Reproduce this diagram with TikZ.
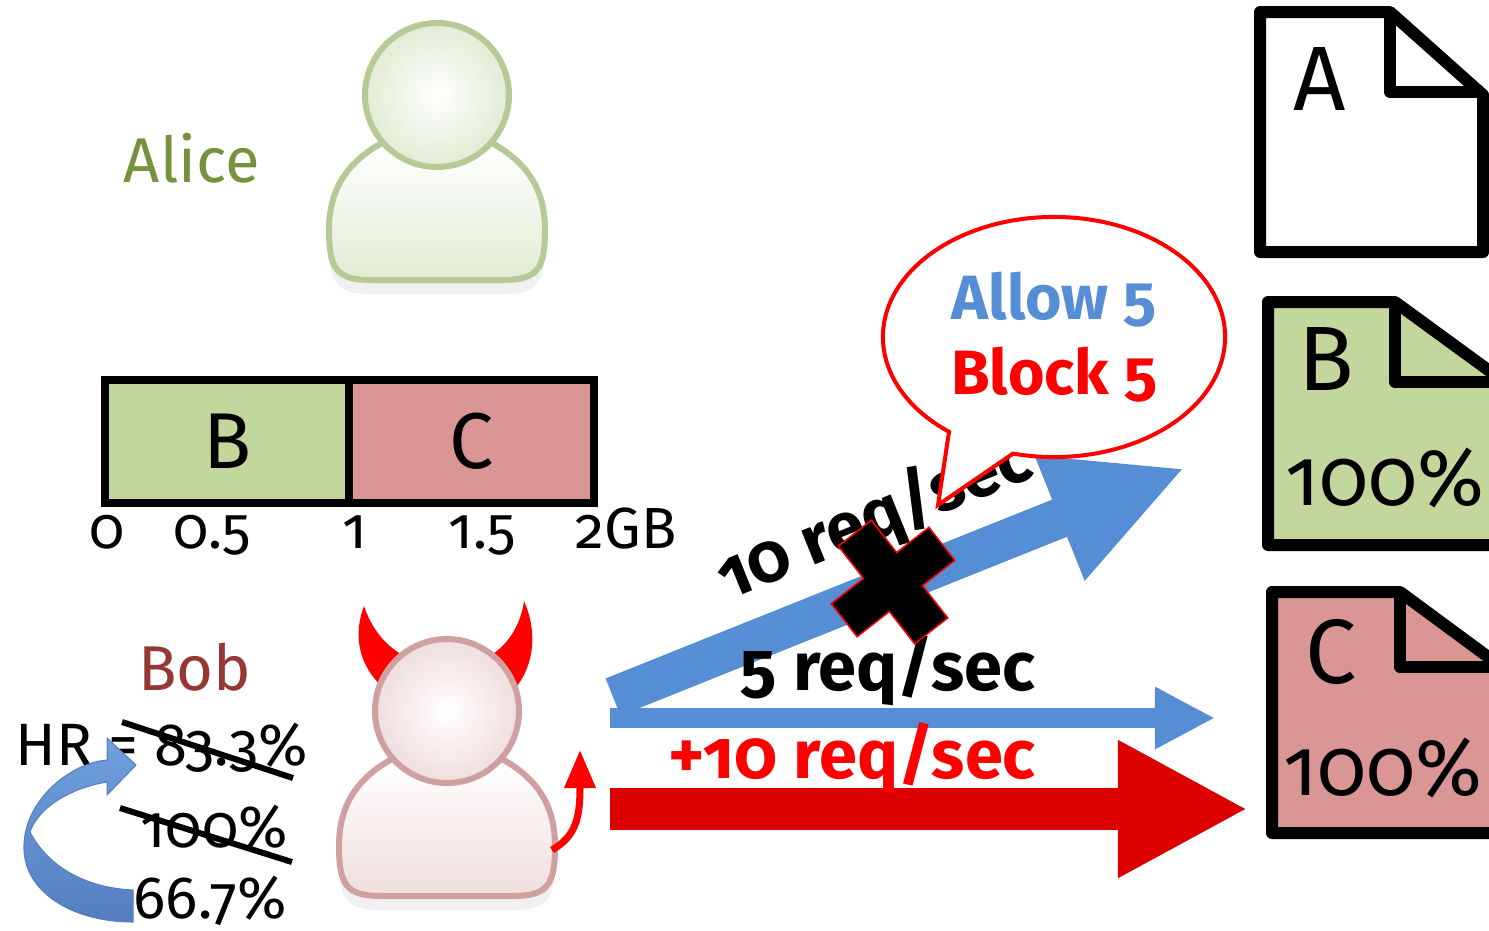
\documentclass[tikz,border=0pt]{standalone}
\usepackage{fontspec}
\setmainfont[Numbers=OldStyle]{Fira Sans}
\usepackage{xcolor}
\usepackage{tikz}
\usetikzlibrary{arrows.meta, shapes.callouts, shadows}

\definecolor{alicetext}{RGB}{118,146,60}
\definecolor{bobtext}{RGB}{149,55,53}
\definecolor{alicerim}{RGB}{182,202,150}
\definecolor{aliceskin}{RGB}{226,236,212}
\definecolor{bobrim}{RGB}{208,160,160}
\definecolor{bobskin}{RGB}{240,222,222}
\definecolor{bargreen}{RGB}{195,214,155}
\definecolor{barred}{RGB}{217,150,148}
\definecolor{flowblue}{RGB}{85,142,213}
\definecolor{flowred}{RGB}{220,0,0}
\definecolor{hrlight}{RGB}{112,160,222}
\definecolor{hrdark}{RGB}{84,126,192}

\begin{document}
\begin{tikzpicture}[
    x=0.01cm, y=-0.01cm,
    txt/.style={inner sep=0pt, anchor=base},
    username/.style={txt, font=\fontsize{18}{21}\selectfont},
    cell/.style={draw, line width=0.08cm, minimum width=2.45cm, minimum height=1.23cm, inner sep=0pt, font=\fontsize{22.5}{26}\selectfont},
    tick/.style={txt, font=\fontsize{16.5}{19}\selectfont},
    hr/.style={txt, anchor=base west, font=\fontsize{17}{20}\selectfont},
    strike/.style={line width=0.06cm},
    doc/.style={line width=0.12cm, line join=round},
    docletter/.style={txt, font=\fontsize{26}{30}\selectfont},
    docpct/.style={txt, font=\fontsize{23}{28}\selectfont},
    rate/.style={txt, font=\bfseries\fontsize{19.5}{23}\selectfont},
    flowup/.style={draw=flowblue, line width=0.4cm, -{Triangle[length=1.35cm, width=1.24cm]}},
    flowok/.style={draw=flowblue, line width=0.2cm, -{Triangle[length=0.6cm, width=0.58cm]}},
    flowbad/.style={draw=flowred, line width=0.42cm, -{Triangle[length=1.3cm, width=1.28cm]}},
    horn/.style={fill=red},
    devtail/.style={draw=red, line width=0.07cm, -{Triangle[length=0.38cm, width=0.3cm]}},
    alicelook/.style={
        personbody/.style={draw=alicerim, line width=0.06cm, top color=white, bottom color=aliceskin,
            drop shadow={opacity=0.12, shadow xshift=0pt, shadow yshift=-4pt}},
        personhead/.style={draw=alicerim, line width=0.06cm, inner color=white, outer color=aliceskin}},
    boblook/.style={
        personbody/.style={draw=bobrim, line width=0.06cm, top color=white, bottom color=bobskin,
            drop shadow={opacity=0.12, shadow xshift=0pt, shadow yshift=-4pt}},
        personhead/.style={draw=bobrim, line width=0.06cm, inner color=white, outer color=bobskin}},
    person/.pic={
        \path[personbody] (-55,48) .. controls (-95,70) and (-108,100) .. (-108,135)
            .. controls (-108,175) and (-100,185) .. (-65,185) -- (65,185)
            .. controls (100,185) and (108,175) .. (108,135)
            .. controls (108,100) and (95,70) .. (55,48) -- cycle;
        \path[personhead] (0,0) circle [radius=72];
    }
]
\useasboundingbox (0,0) rectangle (1489,930);
\clip (0,0) rectangle (1489,930);

% users
\node[username, text=alicetext] (alice) at (192,182) {Alice};
\pic[alicelook] at (437,95) {person};

\node[username, text=bobtext] (bob) at (195,690) {Bob};
\path[horn] (386,690) .. controls (356,665) and (354,632) .. (364,606)
    .. controls (374,636) and (394,654) .. (418,662) -- cycle;
\path[horn] (478,662) .. controls (503,652) and (520,630) .. (524,601)
    .. controls (537,630) and (536,666) .. (512,692) -- cycle;
\pic[boblook] at (447,711) {person};
\coordinate (tail-root) at (552,850);
\coordinate (tail-tip) at (580,750);
\draw[devtail] (tail-root) .. controls (576,836) and (580,818) .. (tail-tip);

% cache split
\node[cell, fill=bargreen] (cell-b) at (227.5,441.5) {B};
\node[cell, fill=barred] (cell-c) at (471.5,441.5) {C};
\node[tick] (t0) at (107,548) {0};
\node[tick] (t05) at (212,548) {0.5};
\node[tick] (t1) at (355,548) {1};
\node[tick] (t15) at (482,548) {1.5};
\node[tick] (t2) at (626,548) {2GB};

% hit ratio
\node[hr] (hr) at (15,765) {HR = 83.3\%};
\node[hr] (hr-mid) at (140,847) {100\%};
\node[hr] (hr-new) at (133,918) {66.7\%};
\draw[strike] (122,722) -- (293,778);
\draw[strike] (120,808) -- (292,862);
\path[draw=hrdark, line width=0.01cm, top color=hrlight, bottom color=hrdark]
    (133,922) .. controls (70,922) and (22,890) .. (24,845)
    .. controls (25,800) and (70,763) .. (107,760) -- (107,738) -- (136,765) -- (107,795) -- (107,782)
    .. controls (70,788) and (38,808) .. (30,832)
    .. controls (50,870) and (90,888) .. (133,890) -- cycle;

% objects
\draw[doc] (1260,12) -- (1390,12) -- (1483,95) -- (1483,252) -- (1260,252) -- cycle;
\draw[doc] (1390,12) -- (1390,92) -- (1483,92);
\node[docletter] (doc-a) at (1320,110) {A};

\draw[doc, fill=bargreen] (1268,302) -- (1395,302) -- (1495,375) -- (1495,545) -- (1268,545) -- cycle;
\draw[doc] (1395,302) -- (1395,382) -- (1495,382);
\node[docletter] (doc-b) at (1326,390) {B};
\node[docpct] (pct-b) at (1385,505) {100\%};

\draw[doc, fill=barred] (1272,592) -- (1400,592) -- (1495,662) -- (1495,833) -- (1272,833) -- cycle;
\draw[doc] (1400,592) -- (1400,667) -- (1495,667);
\node[docletter] (doc-c) at (1331,683) {C};
\node[docpct] (pct-c) at (1383,795) {100\%};

% request flows
\coordinate (up-start) at (613,697);
\coordinate (up-end) at (1185,468);
\coordinate (ok-start) at (610,718);
\coordinate (ok-end) at (1215,718);
\coordinate (bad-start) at (610,809);
\coordinate (bad-end) at (1248,809);
\draw[flowup] (up-start) -- (up-end);
\draw[flowok] (ok-start) -- (ok-end);
\draw[flowbad] (bad-start) -- (bad-end);

\node[rate, rotate=22] (rate-all) at (882,538) {10 req/sec};
\node[rate] (rate-ok) at (888,690) {5 req/sec};
\node[rate, text=red] (rate-bad) at (852,778) {+10 req/sec};

% limiter
\node[ellipse callout, draw=red, line width=0.04cm, fill=white, minimum width=3.42cm, minimum height=2.4cm,
    inner sep=0pt, align=center, callout absolute pointer={(938,505)}, callout pointer arc=24,
    font=\bfseries\fontsize{17.8}{21.3}\selectfont] (limiter) at (1054,337)
    {\textcolor{flowblue}{Allow 5}\\\textcolor{red}{Block 5}};

\begin{scope}[shift={(893,582)}, rotate=38]
\filldraw[fill=black, draw=red, line width=0.015cm] (-21,-62) -- (21,-62) -- (21,-21) -- (62,-21)
    -- (62,21) -- (21,21) -- (21,62) -- (-21,62) -- (-21,21) -- (-62,21) -- (-62,-21) -- (-21,-21) -- cycle;
\end{scope}

\end{tikzpicture}
\end{document}
